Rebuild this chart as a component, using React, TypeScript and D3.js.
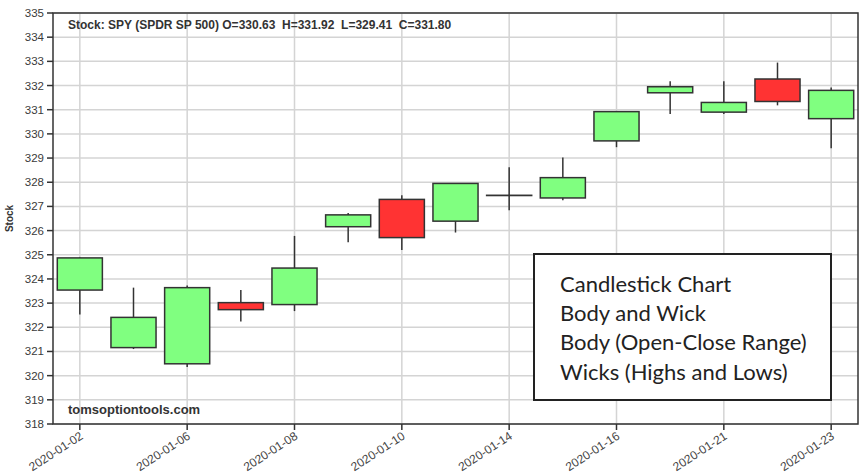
import * as d3 from "d3"

// SPY daily prices, January 2020
const dates = [
  "2020-01-02", "2020-01-03", "2020-01-06", "2020-01-07", "2020-01-08",
  "2020-01-09", "2020-01-10", "2020-01-13", "2020-01-14", "2020-01-15",
  "2020-01-16", "2020-01-17", "2020-01-21", "2020-01-22", "2020-01-23",
]
const opens = [323.54, 321.16, 320.49, 323.02, 322.94, 326.16, 327.29, 326.39, 327.46, 327.35, 329.71, 331.7, 330.9, 332.27, 330.63]
const highs = [324.89, 323.64, 323.73, 323.54, 325.78, 326.73, 327.46, 327.96, 328.62, 329.02, 330.92, 332.18, 332.18, 332.95, 331.92]
const lows = [322.53, 321.1, 320.36, 322.24, 322.67, 325.52, 325.2, 325.92, 326.84, 327.26, 329.45, 330.82, 330.82, 331.18, 329.41]
const closes = [324.87, 322.41, 323.64, 322.73, 324.45, 326.65, 325.71, 327.95, 327.45, 328.19, 330.92, 331.95, 331.3, 331.34, 331.8]

const yTicks = d3.range(318, 336)
const xTickLabels = ["2020-01-02", "2020-01-06", "2020-01-08", "2020-01-10", "2020-01-14", "2020-01-16", "2020-01-21", "2020-01-23"]

const legendLines = ["Candlestick Chart", "Body and Wick", "Body (Open-Close Range)", "Wicks (Highs and Lows)"]

const W = 861
const H = 474
const margin = { top: 13, right: 3, bottom: 50, left: 53 }

export default function App() {
  const x = d3
    .scalePoint<string>()
    .domain(dates)
    .range([margin.left, W - margin.right])
    .padding(0.5)
  const y = d3.scaleLinear().domain([318, 335]).range([H - margin.bottom, margin.top])

  const step = x.step()
  const bodyW = step * 0.84
  const left = margin.left
  const right = W - margin.right
  const top = margin.top
  const bottom = H - margin.bottom

  return (
    <svg width={W} height={H} style={{ position: "absolute", left: 0, top: 0 }} fontFamily="'Liberation Sans', Arial, sans-serif">
      <rect width={W} height={H} fill="#fff" />

      {/* grid */}
      {yTicks.map((t) => (
        <line key={"gy" + t} x1={left} x2={right} y1={y(t)} y2={y(t)} stroke="#d4d4d4" strokeWidth={1.5} />
      ))}
      {xTickLabels.map((d) => (
        <line key={"gx" + d} x1={x(d)} x2={x(d)} y1={top} y2={bottom} stroke="#d4d4d4" strokeWidth={1.5} />
      ))}

      {/* candles */}
      {dates.map((d, i) => {
        const cx = x(d) || 0
        const o = opens[i]
        const c = closes[i]
        const up = c >= o
        const yTop = y(Math.max(o, c))
        const yBot = y(Math.min(o, c))
        return (
          <g key={d}>
            <line x1={cx} x2={cx} y1={y(highs[i])} y2={y(lows[i])} stroke="#333" strokeWidth={1.5} />
            <rect
              x={cx - bodyW / 2}
              y={yTop}
              width={bodyW}
              height={Math.max(0, yBot - yTop)}
              fill={up ? "#80ff80" : "#ff3333"}
              stroke="#333"
              strokeWidth={1.5}
            />
          </g>
        )
      })}

      {/* frame */}
      <rect x={left} y={top} width={right - left} height={bottom - top} fill="none" stroke="#333" strokeWidth={1.5} />

      {/* y axis */}
      {yTicks.map((t) => (
        <g key={"ty" + t}>
          <line x1={left - 6} x2={left} y1={y(t)} y2={y(t)} stroke="#333" strokeWidth={1.5} />
          <text x={left - 9} y={y(t)} dy="0.35em" textAnchor="end" fontSize={11.5} fill="#3a3a3a">
            {t}
          </text>
        </g>
      ))}
      <text transform={`translate(13,${(top + bottom) / 2}) rotate(-90)`} textAnchor="middle" fontSize={10} fontWeight="bold" fill="#333">
        Stock
      </text>

      {/* x axis */}
      {xTickLabels.map((d) => (
        <g key={"tx" + d}>
          <line x1={x(d)} x2={x(d)} y1={bottom} y2={bottom + 6} stroke="#333" strokeWidth={1.5} />
          <text
            transform={`translate(${(x(d) || 0) + 4},${bottom + 14}) rotate(-33)`}
            textAnchor="end"
            fontSize={12}
            fill="#444"
          >
            {d}
          </text>
        </g>
      ))}

      {/* header + watermark */}
      <text x={68} y={29} fontSize={12} fontWeight="bold" fill="#333">
        Stock: SPY (SPDR SP 500) O={opens[14].toFixed(2)}{"\u00a0\u00a0"}H={highs[14].toFixed(2)}{"\u00a0\u00a0"}L={lows[14].toFixed(2)}{"\u00a0\u00a0"}C={closes[14].toFixed(2)}
      </text>
      <text x={68} y={414} fontSize={13} fontWeight="bold" fill="#333">
        tomsoptiontools.com
      </text>

      {/* legend box */}
      <rect x={534} y={254} width={297} height={146} fill="#fff" stroke="#222" strokeWidth={2} />
      {legendLines.map((l, i) => (
        <text key={l} x={560} y={292 + i * 29.2} fontSize={22} fontFamily="Lato, sans-serif" fill="#222">
          {l}
        </text>
      ))}
    </svg>
  )
}
